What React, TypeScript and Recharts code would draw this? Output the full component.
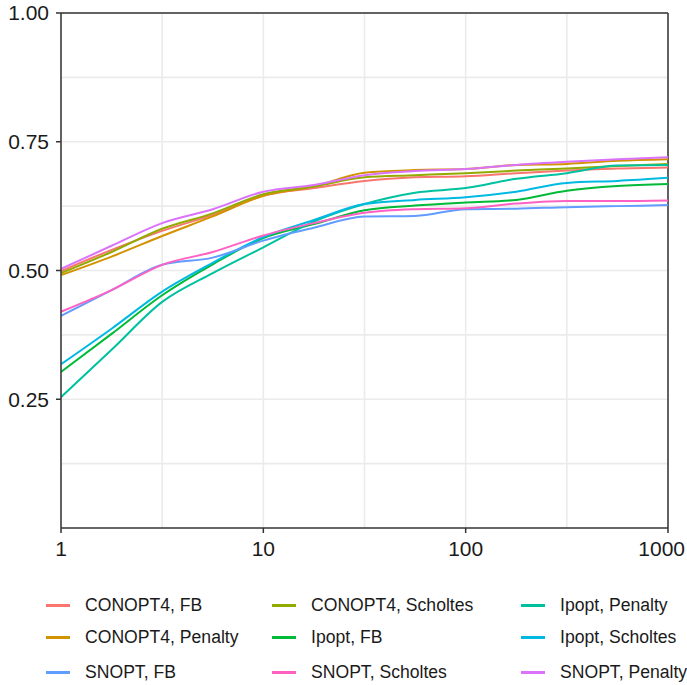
import { LineChart, Line, XAxis, YAxis, CartesianGrid, ReferenceLine } from 'recharts';

// performance ratio (log scale)
const ratios = [1, 1.778, 3.162, 5.623, 10, 17.78, 31.62, 56.23, 100, 177.8, 316.2, 562.3, 1000];

const conopt4Fb = [0.499, 0.540, 0.577, 0.608, 0.645, 0.660, 0.674, 0.681, 0.683, 0.689, 0.694, 0.698, 0.700];
const conopt4Penalty = [0.491, 0.527, 0.567, 0.605, 0.645, 0.663, 0.690, 0.695, 0.697, 0.705, 0.707, 0.713, 0.716];
const conopt4Scholtes = [0.495, 0.536, 0.581, 0.611, 0.648, 0.663, 0.681, 0.685, 0.689, 0.694, 0.698, 0.703, 0.707];
const ipoptFb = [0.303, 0.377, 0.452, 0.512, 0.563, 0.590, 0.617, 0.626, 0.632, 0.637, 0.655, 0.664, 0.668];
const ipoptPenalty = [0.254, 0.346, 0.439, 0.495, 0.545, 0.595, 0.629, 0.651, 0.660, 0.678, 0.689, 0.704, 0.705];
const ipoptScholtes = [0.318, 0.387, 0.459, 0.515, 0.565, 0.598, 0.629, 0.637, 0.642, 0.653, 0.670, 0.674, 0.680];
const snoptFb = [0.412, 0.462, 0.511, 0.525, 0.558, 0.583, 0.605, 0.606, 0.619, 0.620, 0.623, 0.625, 0.627];
const snoptPenalty = [0.503, 0.548, 0.592, 0.619, 0.653, 0.666, 0.685, 0.693, 0.697, 0.705, 0.711, 0.716, 0.720];
const snoptScholtes = [0.420, 0.462, 0.511, 0.536, 0.568, 0.592, 0.612, 0.619, 0.621, 0.630, 0.635, 0.635, 0.636];

const xTicks = [1, 10, 100, 1000];
const yTicks = [0.25, 0.5, 0.75, 1];

const series = [
  { key: 'c4fb', label: 'CONOPT4, FB', color: '#F8766D', values: conopt4Fb },
  { key: 'c4pen', label: 'CONOPT4, Penalty', color: '#D39200', values: conopt4Penalty },
  { key: 'c4sch', label: 'CONOPT4, Scholtes', color: '#93AA00', values: conopt4Scholtes },
  { key: 'ipfb', label: 'Ipopt, FB', color: '#00BA38', values: ipoptFb },
  { key: 'ippen', label: 'Ipopt, Penalty', color: '#00C19F', values: ipoptPenalty },
  { key: 'ipsch', label: 'Ipopt, Scholtes', color: '#00B9E3', values: ipoptScholtes },
  { key: 'snfb', label: 'SNOPT, FB', color: '#619CFF', values: snoptFb },
  { key: 'snpen', label: 'SNOPT, Penalty', color: '#DB72FB', values: snoptPenalty },
  { key: 'snsch', label: 'SNOPT, Scholtes', color: '#FF61C3', values: snoptScholtes },
];

// legend grid, column by column
const legendColumns = [
  ['c4fb', 'c4pen', 'snfb'],
  ['c4sch', 'ipfb', 'snsch'],
  ['ippen', 'ipsch', 'snpen'],
];

const data = ratios.map((r, i) => {
  const row: Record<string, number> = { ratio: r };
  series.forEach((s) => {
    row[s.key] = s.values[i];
  });
  return row;
});

const font = '"Liberation Sans", Arial, sans-serif';
const colX = [46, 272, 521];
const rowY = [605, 637, 672];

function XTick(props: any) {
  const { x, y, payload } = props;
  // the last label is pulled in so it stays inside the page
  const last = payload.value === 1000;
  return (
    <text
      x={last ? x + 17 : x}
      y={y + 6}
      dy="0.71em"
      textAnchor={last ? 'end' : 'middle'}
      fill="#1a1a1a"
      fontSize={21}
      fontFamily={font}
    >
      {payload.value}
    </text>
  );
}

export default function App() {
  return (
    <div style={{ position: 'relative', width: 687, height: 685, fontFamily: font, overflow: 'hidden' }}>
      <style>{'body { margin: 0; }'}</style>
      <LineChart width={687} height={568} data={data} margin={{ top: 13, right: 19, left: 0, bottom: 0 }}>
        <CartesianGrid
          stroke="#ebebeb"
          strokeWidth={1.6}
          verticalValues={[1, 3.162, 10, 31.62, 100, 316.2, 1000]}
          horizontalValues={[0.125, 0.25, 0.375, 0.5, 0.625, 0.75, 0.875, 1]}
        />
        <XAxis
          dataKey="ratio"
          type="number"
          scale="log"
          domain={[1, 1000]}
          ticks={xTicks}
          allowDataOverflow
          height={40}
          stroke="#333"
          strokeWidth={1.5}
          tickSize={5}
          tick={<XTick />}
        />
        <YAxis
          type="number"
          domain={[0, 1]}
          ticks={yTicks}
          width={61}
          stroke="#333"
          strokeWidth={1.5}
          tickSize={5}
          tickMargin={7}
          tickFormatter={(v: number) => v.toFixed(2)}
          tick={{ fill: '#1a1a1a', fontSize: 21, fontFamily: font }}
        />
        <ReferenceLine y={1} stroke="#333" strokeWidth={1.5} />
        <ReferenceLine x={1000} stroke="#333" strokeWidth={1.5} />
        {series.map((s) => (
          <Line
            key={s.key}
            dataKey={s.key}
            type="monotone"
            stroke={s.color}
            strokeWidth={2}
            dot={false}
            isAnimationActive={false}
          />
        ))}
      </LineChart>
      {legendColumns.map((col, ci) =>
        col.map((k, ri) => {
          const s = series.find((x) => x.key === k)!;
          return (
            <div
              key={k}
              style={{
                position: 'absolute',
                left: colX[ci],
                top: rowY[ri] - 11,
                height: 22,
                display: 'flex',
                alignItems: 'center',
                fontSize: 17.6,
                color: '#1a1a1a',
                whiteSpace: 'nowrap',
              }}
            >
              <span style={{ display: 'inline-block', width: 24, height: 3, background: s.color, marginRight: 15 }} />
              {s.label}
            </div>
          );
        })
      )}
    </div>
  );
}
